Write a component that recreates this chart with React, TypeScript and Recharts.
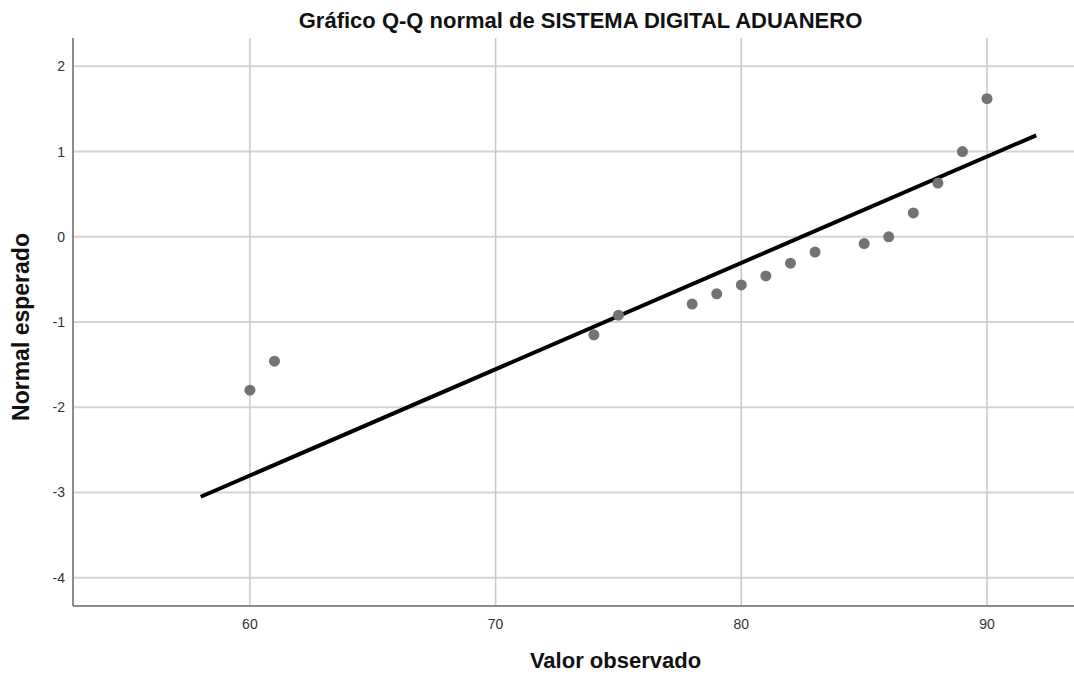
import React from 'react';
import { ScatterChart, Scatter, XAxis, YAxis, ReferenceLine } from 'recharts';

const observed = [60, 61, 74, 75, 78, 79, 80, 81, 82, 83, 85, 86, 87, 88, 89, 90];
const expectedNormal = [-1.80, -1.46, -1.15, -0.92, -0.79, -0.67, -0.565, -0.46, -0.31, -0.18, -0.08, 0.0, 0.28, 0.63, 1.0, 1.62];
const lineX = [58, 92];
const lineY = [-3.05, 1.19];
const xTicks = [60, 70, 80, 90];
const yTicks = [-4, -3, -2, -1, 0, 1, 2];

const points = observed.map((x, i) => ({ x, y: expectedNormal[i] }));
const linePts = lineX.map((x, i) => ({ x, y: lineY[i] }));

const FONT = 'Liberation Sans, Arial, sans-serif';

export default function App() {
  return (
    <div style={{ position: 'absolute', left: 0, top: 0, width: 1074, height: 674, background: '#fff', fontFamily: FONT }}>
      <div style={{ position: 'absolute', left: 0, width: 1161, top: 8, textAlign: 'center', fontSize: 22, fontWeight: 'bold', color: '#111', whiteSpace: 'nowrap' }}>
        Gráfico Q-Q normal de SISTEMA DIGITAL ADUANERO
      </div>
      <div style={{ position: 'absolute', left: 0, width: 1231, top: 648, textAlign: 'center', fontSize: 22, fontWeight: 'bold', color: '#111', whiteSpace: 'nowrap' }}>
        Valor observado
      </div>
      <div style={{ position: 'absolute', left: 21, top: 327, width: 0, height: 0 }}>
        <div style={{ position: 'absolute', transform: 'translate(-50%, -50%) rotate(-90deg)', whiteSpace: 'nowrap', fontSize: 23, fontWeight: 'bold', color: '#111' }}>
          Normal esperado
        </div>
      </div>
      <ScatterChart width={1074} height={674} margin={{ top: 38, right: 0, left: 0, bottom: 38 }} style={{ position: 'absolute', left: 0, top: 0 }}>
        <XAxis
          type="number"
          dataKey="x"
          domain={[52.8, 93.54]}
          ticks={xTicks}
          allowDataOverflow
          height={30}
          tickLine={false}
          tickSize={0}
          tickMargin={13}
          axisLine={false}
          tick={{ fill: '#333', fontSize: 14, fontFamily: FONT }}
        />
        <YAxis
          type="number"
          dataKey="y"
          domain={[-4.332, 2.332]}
          ticks={yTicks}
          allowDataOverflow
          width={73}
          tickLine={false}
          tickSize={0}
          tickMargin={8}
          axisLine={false}
          tick={{ fill: '#333', fontSize: 14, fontFamily: FONT }}
        />
        {yTicks.map((t) => (
          <ReferenceLine key={'y' + t} y={t} stroke="#d4d4d4" strokeWidth={2} />
        ))}
        {xTicks.map((t) => (
          <ReferenceLine key={'x' + t} x={t} stroke="#c8c8c8" strokeWidth={1.5} />
        ))}
        <ReferenceLine x={52.8} stroke="#8c8c8c" strokeWidth={2} />
        <ReferenceLine y={-4.332} stroke="#8c8c8c" strokeWidth={2} />
        <Scatter
          data={linePts}
          line={{ stroke: '#000', strokeWidth: 4 }}
          shape={() => <g />}
          isAnimationActive={false}
        />
        <Scatter data={points} fill="#737373" isAnimationActive={false} shape={(p: any) => <circle cx={p.cx} cy={p.cy} r={5.5} fill="#737373" />} />
      </ScatterChart>
    </div>
  );
}
